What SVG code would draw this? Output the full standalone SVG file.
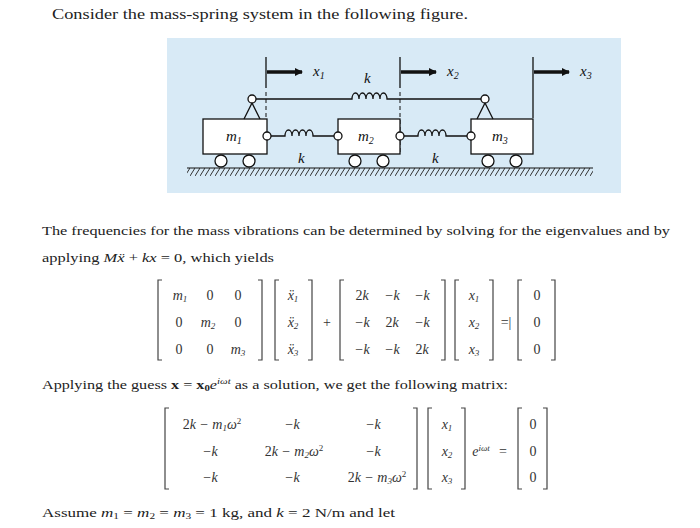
<svg xmlns="http://www.w3.org/2000/svg" width="700" height="528" viewBox="0 0 700 528">
<defs>
<style>
.t{font-family:"Liberation Serif",serif;font-size:13.5px;fill:#222}
.m{font-family:"Liberation Serif",serif;font-style:italic;font-size:14px;fill:#333}
.n{font-family:"Liberation Serif",serif;font-size:14px;fill:#333}
.f{font-family:"Liberation Serif",serif;font-style:italic;font-size:15px;fill:#111}
.s{fill:none;stroke:#111;stroke-width:1.3}
.br{fill:none;stroke:#444;stroke-width:1.2}
.box{fill:#fff;stroke:#111;stroke-width:1.3}
</style>
<pattern id="h" width="5" height="8" patternUnits="userSpaceOnUse"><path d="M5 0 L0 8" stroke="#333" stroke-width="1"/></pattern>
<marker id="a" markerWidth="8" markerHeight="8" refX="7" refY="4" orient="auto" markerUnits="userSpaceOnUse"><path d="M0 0 L8 4 L0 8 Z" fill="#111"/></marker>
</defs>
<rect width="700" height="528" fill="#fff"/>
<text x="52" y="19" textLength="416" lengthAdjust="spacingAndGlyphs" style="font-family:'Liberation Serif',serif;font-size:15.5px;fill:#222">Consider the mass-spring system in the following figure.</text>
<g id="figure">
<rect x="167" y="38" width="454" height="155" fill="#d8eaf6"/>
<rect x="187" y="168" width="406" height="8" fill="url(#h)"/>
<line x1="187" y1="168" x2="593" y2="168" stroke="#111" stroke-width="1.2"/>
<g id="connectors">
<line class="s" x1="266" y1="57" x2="266" y2="88"/><line x1="266" y1="92" x2="266" y2="152" stroke="#111" stroke-dasharray="4,3"/>
<line class="s" x1="400" y1="57" x2="400" y2="88"/><line x1="400" y1="92" x2="400" y2="152" stroke="#111" stroke-dasharray="4,3"/>
<line class="s" x1="533" y1="57" x2="533" y2="118"/>
<line x1="267" y1="72" x2="302" y2="72" stroke="#111" stroke-width="3.5" marker-end="url(#a)"/>
<line x1="401" y1="72" x2="436" y2="72" stroke="#111" stroke-width="3.5" marker-end="url(#a)"/>
<line x1="534" y1="72" x2="569" y2="72" stroke="#111" stroke-width="3.5" marker-end="url(#a)"/>
<path class="s" d="M256 99 H352 a3.5 6 0 1 1 7 0 a3.5 6 0 1 1 7 0 a3.5 6 0 1 1 7 0 a3.5 6 0 1 1 7 0 a3.5 6 0 1 1 7 0 H481"/>
<path class="s" d="M271 136 H285 a3.5 6 0 1 1 7 0 a3.5 6 0 1 1 7 0 a3.5 6 0 1 1 7 0 a3.5 6 0 1 1 7 0 H334"/>
<path class="s" d="M404 136 H418 a3.5 6 0 1 1 7 0 a3.5 6 0 1 1 7 0 a3.5 6 0 1 1 7 0 a3.5 6 0 1 1 7 0 H467"/>
</g>
<g id="m1"><rect class="box" x="203" y="119" width="64" height="35"/><text class="f" x="226" y="141">m<tspan font-size="10" dy="3">1</tspan></text>
<circle class="box" cx="221" cy="161" r="6"/><circle class="box" cx="249" cy="161" r="6"/>
<path class="s" d="M244 119 L252 103 L260 119"/><circle class="box" cx="252" cy="99" r="4"/><circle class="box" cx="267" cy="136" r="4"/></g>
<g id="m2"><rect class="box" x="338" y="119" width="62" height="35"/><text class="f" x="358" y="141">m<tspan font-size="10" dy="3">2</tspan></text>
<circle class="box" cx="355" cy="161" r="6"/><circle class="box" cx="383" cy="161" r="6"/>
<circle class="box" cx="338" cy="136" r="4"/><circle class="box" cx="400" cy="136" r="4"/></g>
<g id="m3"><rect class="box" x="471" y="119" width="62" height="35"/><text class="f" x="492" y="141">m<tspan font-size="10" dy="3">3</tspan></text>
<circle class="box" cx="488" cy="161" r="6"/><circle class="box" cx="516" cy="161" r="6"/>
<path class="s" d="M477 119 L485 103 L493 119"/><circle class="box" cx="485" cy="99" r="4"/><circle class="box" cx="471" cy="136" r="4"/></g>
<text class="f" x="313" y="76">x<tspan font-size="10" dy="3">1</tspan></text>
<text class="f" x="447" y="76">x<tspan font-size="10" dy="3">2</tspan></text>
<text class="f" x="580" y="76">x<tspan font-size="10" dy="3">3</tspan></text>
<text class="f" x="364" y="83">k</text><text class="f" x="298" y="163">k</text><text class="f" x="432" y="163">k</text>
</g>
<text class="t" x="42" y="235" textLength="628" lengthAdjust="spacingAndGlyphs">The frequencies for the mass vibrations can be determined by solving for the eigenvalues and by</text>
<text class="t" x="42" y="262" textLength="232" lengthAdjust="spacingAndGlyphs">applying <tspan font-style="italic">Mẍ</tspan> + <tspan font-style="italic">kx</tspan> = 0, which yields</text>
<g id="eq1">
<path class="br" d="M162 280 h-4 v80 h4 M258 280 h4 v80 h-4 M279 280 h-4 v80 h4 M308 280 h4 v80 h-4 M344 280 h-4 v80 h4 M441 280 h4 v80 h-4 M459 280 h-4 v80 h4 M489 280 h4 v80 h-4 M522 280 h-4 v80 h4 M551 280 h4 v80 h-4"/>
<g text-anchor="middle">
<text class="m" x="180" y="300">m<tspan font-size="9" dy="2">1</tspan></text><text class="n" x="210" y="300">0</text><text class="n" x="238" y="300">0</text>
<text class="n" x="179" y="327">0</text><text class="m" x="208" y="327">m<tspan font-size="9" dy="2">2</tspan></text><text class="n" x="238" y="327">0</text>
<text class="n" x="179" y="354">0</text><text class="n" x="210" y="354">0</text><text class="m" x="238" y="354">m<tspan font-size="9" dy="2">3</tspan></text>
<text class="m" x="293" y="300">ẍ<tspan font-size="9" dy="2">1</tspan></text><text class="m" x="293" y="327">ẍ<tspan font-size="9" dy="2">2</tspan></text><text class="m" x="293" y="354">ẍ<tspan font-size="9" dy="2">3</tspan></text>
<text class="n" x="327" y="327">+</text>
<text class="m" x="362" y="300"><tspan font-style="normal">2</tspan>k</text><text class="m" x="392" y="300">−k</text><text class="m" x="422" y="300">−k</text>
<text class="m" x="362" y="327">−k</text><text class="m" x="392" y="327"><tspan font-style="normal">2</tspan>k</text><text class="m" x="422" y="327">−k</text>
<text class="m" x="362" y="354">−k</text><text class="m" x="392" y="354">−k</text><text class="m" x="422" y="354"><tspan font-style="normal">2</tspan>k</text>
<text class="m" x="474" y="300">x<tspan font-size="9" dy="2">1</tspan></text><text class="m" x="474" y="327">x<tspan font-size="9" dy="2">2</tspan></text><text class="m" x="474" y="354">x<tspan font-size="9" dy="2">3</tspan></text>
<text class="n" x="506" y="327">=|</text>
<text class="n" x="537" y="300">0</text><text class="n" x="537" y="327">0</text><text class="n" x="537" y="354">0</text>
</g></g>
<text class="t" x="42" y="389" textLength="466" lengthAdjust="spacingAndGlyphs">Applying the guess <tspan font-weight="bold">x</tspan> = <tspan font-weight="bold">x</tspan><tspan font-size="9" dy="2" font-weight="bold">0</tspan><tspan font-style="italic" dy="-2">e</tspan><tspan font-size="9" font-style="italic" dy="-5">iωt</tspan><tspan dy="5"> as a solution, we get the following matrix:</tspan></text>
<g id="eq2">
<path class="br" d="M169 408 h-4 v81 h4 M413 408 h4 v81 h-4 M432 408 h-4 v81 h4 M461 408 h4 v81 h-4 M522 408 h-4 v81 h4 M543 408 h4 v81 h-4"/>
<g text-anchor="middle">
<text class="m" x="212" y="429"><tspan font-style="normal">2</tspan>k − m<tspan font-size="9" dy="2">1</tspan><tspan dy="-2">ω</tspan><tspan font-size="9" font-style="normal" dy="-5">2</tspan></text>
<text class="m" x="292" y="429">−k</text><text class="m" x="373" y="429">−k</text>
<text class="m" x="210" y="456">−k</text>
<text class="m" x="294" y="456"><tspan font-style="normal">2</tspan>k − m<tspan font-size="9" dy="2">2</tspan><tspan dy="-2">ω</tspan><tspan font-size="9" font-style="normal" dy="-5">2</tspan></text>
<text class="m" x="373" y="456">−k</text>
<text class="m" x="210" y="482">−k</text><text class="m" x="292" y="482">−k</text>
<text class="m" x="377" y="482"><tspan font-style="normal">2</tspan>k − m<tspan font-size="9" dy="2">3</tspan><tspan dy="-2">ω</tspan><tspan font-size="9" font-style="normal" dy="-5">2</tspan></text>
<text class="m" x="447" y="429">x<tspan font-size="9" dy="2">1</tspan></text><text class="m" x="447" y="456">x<tspan font-size="9" dy="2">2</tspan></text><text class="m" x="447" y="482">x<tspan font-size="9" dy="2">3</tspan></text>
<text class="m" x="481" y="456">e<tspan font-size="9" dy="-5">iωt</tspan></text>
<text class="n" x="503" y="456">=</text>
<text class="n" x="533" y="429">0</text><text class="n" x="533" y="456">0</text><text class="n" x="533" y="482">0</text>
</g></g>
<text class="t" x="42" y="517" textLength="353" lengthAdjust="spacingAndGlyphs">Assume <tspan font-style="italic">m</tspan><tspan font-size="9" dy="2">1</tspan><tspan dy="-2"> = </tspan><tspan font-style="italic">m</tspan><tspan font-size="9" dy="2">2</tspan><tspan dy="-2"> = </tspan><tspan font-style="italic">m</tspan><tspan font-size="9" dy="2">3</tspan><tspan dy="-2"> = 1 kg, and </tspan><tspan font-style="italic">k</tspan> = 2 N/m and let</text>
</svg>
